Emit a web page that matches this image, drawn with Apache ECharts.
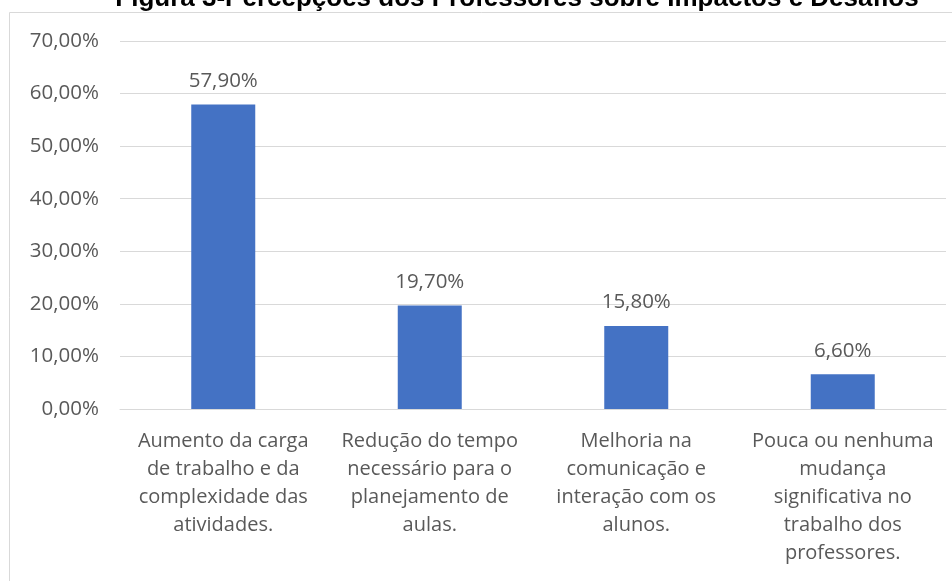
<!DOCTYPE html>
<html>
<head>
<meta charset="utf-8">
<script src="https://cdn.jsdelivr.net/npm/echarts@6/dist/echarts.min.js"></script>
<style>
  html, body { margin: 0; padding: 0; background: #fff; }
  #chart { width: 952px; height: 581px; }
</style>
</head>
<body>
<div id="chart"></div>
<script>
const titleText = 'Figura 3-Percepções dos Professores sobre Impactos e Desafios';
const categories = [
  'Aumento da carga\nde trabalho e da\ncomplexidade das\natividades.',
  'Redução do tempo\nnecessário para o\nplanejamento de\naulas.',
  'Melhoria na\ncomunicação e\ninteração com os\nalunos.',
  'Pouca ou nenhuma\nmudança\nsignificativa no\ntrabalho dos\nprofessores.'
];
const values = [57.9, 19.7, 15.8, 6.6];
const yMin = 0, yMax = 70, yStep = 10;

const fmt = v => v.toFixed(2).replace('.', ',') + '%';
const font = '"Open Sans", sans-serif';

const chart = echarts.init(document.getElementById('chart'), null, { renderer: 'canvas' });
chart.setOption({
  animation: false,
  backgroundColor: '#fff',
  graphic: [
    {
      type: 'rect',
      z: 0,
      shape: { x: 9.5, y: 12.5, width: 980, height: 620 },
      style: { fill: null, stroke: '#d9d9d9', lineWidth: 1 }
    },
    {
      type: 'text',
      z: 10,
      x: 517, y: 12,
      style: {
        text: titleText,
        fill: '#000',
        font: 'bold 26px "Liberation Sans", Arial, sans-serif',
        textAlign: 'center',
        textVerticalAlign: 'bottom'
      }
    }
  ],
  grid: { left: 120, right: 6, top: 41, bottom: 172, containLabel: false },
  xAxis: {
    type: 'category',
    data: categories,
    axisLine: { lineStyle: { color: '#d9d9d9', width: 1 } },
    axisTick: { show: false },
    axisLabel: {
      interval: 0,
      margin: 18,
      color: '#595959',
      fontFamily: font,
      fontSize: 20,
      lineHeight: 28,
      align: 'center'
    }
  },
  yAxis: {
    type: 'value',
    min: yMin, max: yMax, interval: yStep,
    axisLine: { show: false },
    axisTick: { show: false },
    splitLine: { lineStyle: { color: '#d9d9d9', width: 1 } },
    axisLabel: {
      margin: 21,
      color: '#595959',
      fontFamily: font,
      fontSize: 20.5,
      formatter: v => fmt(v)
    }
  },
  series: [{
    type: 'bar',
    data: values,
    barWidth: 64,
    itemStyle: { color: '#4472c4' },
    label: {
      show: true,
      position: 'top',
      distance: 13,
      color: '#595959',
      fontFamily: font,
      fontSize: 20.5,
      formatter: p => fmt(p.value)
    }
  }]
});
</script>
</body>
</html>
